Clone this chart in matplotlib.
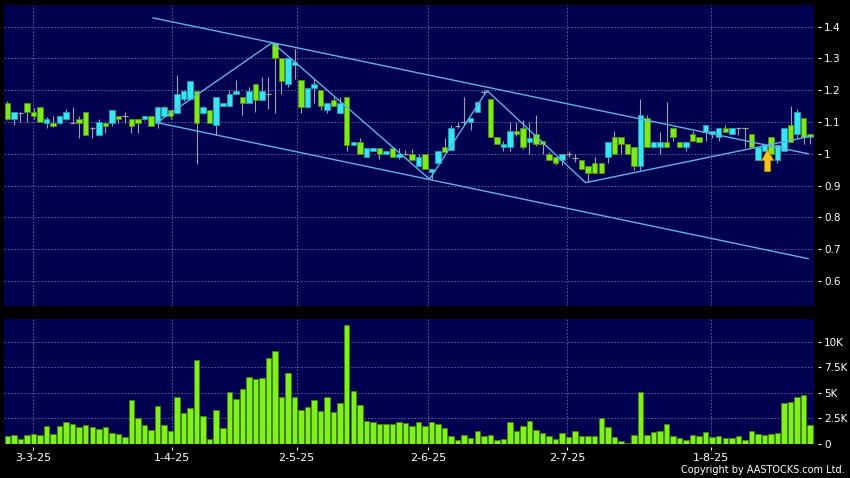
import matplotlib
matplotlib.use('Agg')
import matplotlib.pyplot as plt
from matplotlib.patches import FancyArrow
import numpy as np

# ---------------- data ----------------
opens = [1.16, 1.11, 1.127, 1.16, 1.13, 1.147, 1.098, 1.098, 1.098, 1.11,
         1.098, 1.11, 1.13, 1.08, 1.06, 1.098, 1.098, 1.12, 1.12, 1.11,
         1.11, 1.11, 1.12, 1.098, 1.12, 1.139, 1.129, 1.171, 1.171, 1.197,
         1.129, 1.139, 1.089, 1.149, 1.149, 1.189, 1.179, 1.16, 1.221, 1.17,
         1.189, 1.349, 1.30, 1.221, 1.279, 1.231, 1.147, 1.208, 1.20, 1.139,
         1.17, 1.128, 1.179, 1.029, 1.037, 0.989, 1.01, 1.019, 1.0, 1.019,
         0.989, 1.0, 1.0, 0.962, 1.0, 0.942, 0.97, 1.02, 1.012, 1.087,
         1.10, 1.10, 1.132, 1.195, 1.172, 1.052, 1.021, 1.02, 1.072, 1.08,
         1.038, 1.062, 1.04, 1.0, 0.99, 0.979, 1.0, 0.986, 0.979, 0.96,
         0.97, 0.97, 0.99, 1.052, 1.052, 1.031, 1.02, 0.96, 1.112, 1.021,
         1.021, 1.038, 1.08, 1.038, 1.021, 1.062, 1.052, 1.07, 1.062, 1.052,
         1.08, 1.062, 1.08, 1.08, 1.062, 0.979, 1.01, 1.052, 0.979, 1.01,
         1.091, 1.062, 1.112, 1.062]
highs = [1.165, 1.13, 1.13, 1.16, 1.145, 1.147, 1.115, 1.12, 1.12, 1.14,
         1.147, 1.12, 1.13, 1.085, 1.11, 1.10, 1.139, 1.12, 1.13, 1.11,
         1.11, 1.12, 1.12, 1.147, 1.15, 1.139, 1.249, 1.20, 1.229, 1.197,
         1.15, 1.139, 1.18, 1.16, 1.20, 1.231, 1.179, 1.21, 1.221, 1.242,
         1.242, 1.35, 1.30, 1.30, 1.331, 1.231, 1.208, 1.236, 1.20, 1.16,
         1.18, 1.18, 1.179, 1.037, 1.05, 1.019, 1.019, 1.019, 1.008, 1.019,
         1.018, 1.013, 1.015, 1.0, 1.0, 0.952, 1.01, 1.05, 1.09, 1.10,
         1.18, 1.112, 1.165, 1.20, 1.172, 1.052, 1.04, 1.10, 1.10, 1.105,
         1.10, 1.122, 1.04, 1.005, 0.99, 1.0, 1.01, 1.0, 0.979, 0.96,
         0.99, 0.97, 1.038, 1.073, 1.052, 1.031, 1.02, 1.172, 1.122, 1.038,
         1.07, 1.163, 1.08, 1.038, 1.038, 1.073, 1.052, 1.091, 1.073, 1.08,
         1.09, 1.08, 1.08, 1.08, 1.062, 1.021, 1.035, 1.052, 1.028, 1.08,
         1.151, 1.14, 1.112, 1.062]
lows = [1.105, 1.09, 1.10, 1.10, 1.11, 1.10, 1.08, 1.085, 1.095, 1.105,
        1.098, 1.05, 1.06, 1.05, 1.06, 1.065, 1.088, 1.098, 1.098, 1.065,
        1.065, 1.105, 1.088, 1.08, 1.12, 1.11, 1.129, 1.165, 1.17, 0.968,
        1.125, 1.098, 1.058, 1.149, 1.149, 1.189, 1.121, 1.16, 1.13, 1.17,
        1.142, 1.128, 1.189, 1.21, 1.236, 1.128, 1.147, 1.16, 1.138, 1.128,
        1.149, 1.128, 1.01, 1.029, 1.0, 0.989, 1.01, 0.985, 1.0, 0.989,
        0.983, 0.995, 0.98, 0.962, 0.952, 0.92, 0.97, 1.005, 1.012, 1.08,
        1.09, 1.075, 1.132, 1.19, 1.054, 1.031, 1.01, 1.01, 1.055, 1.015,
        1.0, 1.025, 1.0, 0.979, 0.965, 0.965, 0.99, 0.975, 0.952, 0.912,
        0.941, 0.941, 0.97, 1.0, 1.0, 1.0, 0.95, 0.95, 1.021, 1.021,
        1.0, 1.021, 1.04, 1.021, 1.01, 1.041, 1.038, 1.04, 1.05, 1.04,
        1.07, 1.062, 1.06, 1.02, 1.021, 0.979, 1.01, 1.0, 0.97, 1.01,
        1.038, 1.05, 1.03, 1.03]
closes = [1.11, 1.13, 1.127, 1.13, 1.12, 1.10, 1.11, 1.088, 1.12, 1.13,
          1.098, 1.098, 1.06, 1.08, 1.10, 1.088, 1.139, 1.11, 1.12, 1.088,
          1.098, 1.12, 1.088, 1.147, 1.147, 1.12, 1.189, 1.197, 1.229, 1.098,
          1.147, 1.098, 1.179, 1.16, 1.189, 1.197, 1.16, 1.197, 1.17, 1.197,
          1.189, 1.30, 1.229, 1.30, 1.289, 1.147, 1.208, 1.221, 1.149, 1.16,
          1.149, 1.16, 1.029, 1.037, 1.0, 1.019, 1.019, 1.0, 1.008, 0.989,
          1.0, 1.0, 0.98, 0.99, 0.952, 0.952, 1.01, 1.005, 1.08, 1.087,
          1.10, 1.112, 1.162, 1.195, 1.054, 1.031, 1.031, 1.072, 1.062, 1.02,
          1.051, 1.031, 1.031, 0.979, 0.97, 1.0, 1.0, 0.986, 0.952, 0.941,
          0.941, 0.941, 1.038, 1.0, 1.031, 1.0, 0.96, 1.122, 1.021, 1.038,
          1.038, 1.021, 1.052, 1.021, 1.038, 1.041, 1.038, 1.091, 1.073, 1.08,
          1.07, 1.08, 1.08, 1.08, 1.021, 1.021, 1.028, 1.0, 1.028, 1.08,
          1.038, 1.13, 1.054, 1.054]
volumes = [750, 880, 490, 920, 1010, 920, 1730, 980, 1800, 2100,
           1930, 1640, 1830, 1640, 1440, 1700, 1040, 980, 690, 4260,
           2560, 1830, 1380, 3740, 1870, 1280, 4620, 3010, 3470, 8170,
           2760, 460, 3340, 1600, 5050, 4360, 5340, 6500, 6300, 6460,
           8400, 9120, 4560, 6960, 4600, 3310, 3570, 4290, 3210, 4560,
           3080, 4000, 11640, 5150, 3840, 2260, 2160, 1970, 1990, 1970,
           2160, 2030, 1770, 2130, 1770, 2160, 1990, 1570, 820, 390,
           920, 550, 1310, 750, 880, 360, 460, 2100, 1280, 1800,
           2260, 1410, 1080, 750, 490, 1080, 650, 1240, 750, 820,
           820, 2520, 1700, 690, 330, 130, 920, 5080, 850, 1150,
           1280, 1970, 820, 620, 430, 850, 750, 1180, 690, 820,
           560, 620, 790, 430, 1310, 950, 920, 950, 1110, 3990,
           4120, 4580, 4810, 1900]

date_labels = ['3-3-25', '1-4-25', '2-5-25', '2-6-25', '2-7-25', '1-8-25']
date_pos = [3.9, 25.2, 44.3, 64.5, 85.8, 107.8]
price_ticks = [0.6, 0.7, 0.8, 0.9, 1.0, 1.1, 1.2, 1.3, 1.4]
price_labels = ['0.6', '0.7', '0.8', '0.9', '1', '1.1', '1.2', '1.3', '1.4']
vol_ticks = [0, 2500, 5000, 7500, 10000]
vol_labels = ['0', '2.5K', '5K', '7.5K', '10K']

# drawn trend lines (bar index, price)
upper_x = [22.3, 122.7]
upper_y = [1.4275, 1.0]
lower_x = [22.9, 122.7]
lower_y = [1.098, 0.670]
zig_x = [22.9, 40.6, 64.7, 73.5, 88.6, 123.3]
zig_y = [1.098, 1.350, 0.920, 1.199, 0.909, 1.056]
arrow_x = 116.5
arrow_base = 0.944
arrow_tip = 1.013

# ---------------- style ----------------
BG = '#000050'
GRID = '#6a6aa6'
CYAN = '#38E4F2'
CYAN_E = '#1d9fb0'
GREEN = '#7FE81C'
GREEN_E = '#4a9410'
WICK = '#a0a0a8'
LINE = '#5cb3e6'

plt.rcParams['font.family'] = ['DejaVu Sans']

W, H = 850, 478
fig = plt.figure(figsize=(W / 100, H / 100), dpi=100, facecolor='black')
L, R = 3.5, 814
ax = fig.add_axes([L / W, 1 - 306 / H, (R - L) / W, (306 - 5) / H])
axv = fig.add_axes([L / W, 1 - 444 / H, (R - L) / W, (444 - 319) / H], sharex=ax)

n = len(opens)
x = np.arange(n)
o = np.array(opens)
c = np.array(closes)
up = c > o
dn = c < o
eq = c == o
bw = 0.84

for a in (ax, axv):
    a.set_facecolor(BG)
    for s in a.spines.values():
        s.set_visible(False)
    a.set_axisbelow(True)
    a.grid(True, color=GRID, linestyle=(0, (2, 2)), linewidth=0.6)

# candles
ax.vlines(x, lows, highs, color=WICK, linewidth=0.8, zorder=2)
ax.bar(x[up], (c - o)[up], bottom=o[up], width=bw, color=CYAN,
       edgecolor=CYAN_E, linewidth=0.6, zorder=3)
ax.bar(x[dn], (o - c)[dn], bottom=c[dn], width=bw, color=GREEN,
       edgecolor=GREEN_E, linewidth=0.6, zorder=3)
ax.hlines(c[eq], x[eq] - bw / 2, x[eq] + bw / 2, color=WICK, linewidth=0.9, zorder=3)

# trend lines
ax.plot(upper_x, upper_y, color=LINE, linewidth=1.0, zorder=4)
ax.plot(lower_x, lower_y, color=LINE, linewidth=1.0, zorder=4)
ax.plot(zig_x, zig_y, color=LINE, linewidth=1.0, zorder=4)

# arrow
ax.add_patch(FancyArrow(arrow_x, arrow_base, 0, arrow_tip - arrow_base,
                        width=0.9, head_width=1.85, head_length=0.034,
                        length_includes_head=True, facecolor='#F8C420',
                        edgecolor='#C98A00', linewidth=0.6, zorder=6))

ax.set_xlim(-0.6, 123.6)
ax.set_ylim(0.521, 1.468)
ax.yaxis.tick_right()
ax.set_yticks(price_ticks)
ax.set_yticklabels(price_labels)
ax.spines['right'].set_position(('outward', 3))
ax.tick_params(axis='y', colors='white', labelcolor='white', length=2.2, width=0.8,
               pad=2.2, labelsize=7.5)
ax.tick_params(axis='x', length=0, labelbottom=False)

# volume
axv.bar(x, volumes, width=bw, color='#80F01E', edgecolor='#3f8a00', linewidth=0.6, zorder=3)
axv.set_ylim(0, 12200)
axv.yaxis.tick_right()
axv.set_yticks(vol_ticks)
axv.set_yticklabels(vol_labels)
axv.spines['right'].set_position(('outward', 3))
axv.spines['bottom'].set_position(('outward', 2))
axv.tick_params(axis='y', colors='white', labelcolor='white', length=2.2, width=0.8,
                pad=2.2, labelsize=7.5)
axv.set_xticks(date_pos)
axv.set_xticklabels(date_labels)
axv.tick_params(axis='x', colors='white', labelcolor='white', length=2.2, width=0.8,
                pad=2.5, labelsize=8)

fig.text(845 / W, 1 - 470 / H, 'Copyright by AASTOCKS.com Ltd.', ha='right', va='center',
         color='white', fontsize=7)

fig.savefig('out.png', dpi=100, facecolor='black')
